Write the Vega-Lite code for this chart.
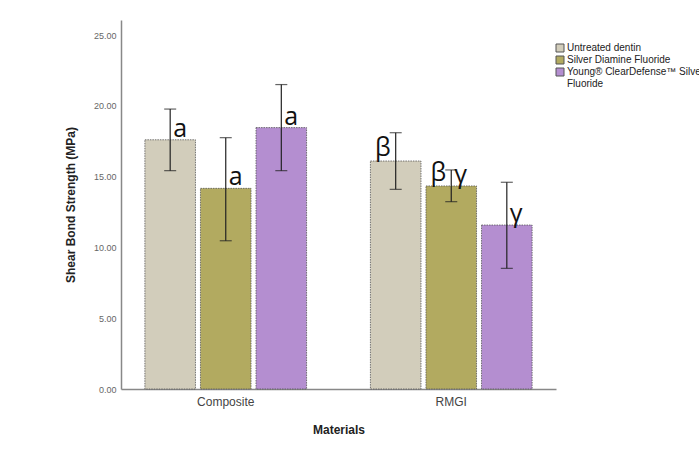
{
  "$schema": "https://vega.github.io/schema/vega-lite/v6.json",
  "width": 435,
  "height": 369,
  "autosize": {"type": "none"},
  "padding": {"left": 121, "top": 20, "right": 143, "bottom": 62},
  "background": "white",
  "config": {"view": {"stroke": null}, "font": "Liberation Sans"},
  "datasets": {
    "main": [
      {"material": "Composite", "treatment": "Untreated dentin", "mean": 17.6, "lo": 15.42, "hi": 19.77},
      {"material": "Composite", "treatment": "Silver Diamine Fluoride", "mean": 14.17, "lo": 10.47, "hi": 17.75},
      {"material": "Composite", "treatment": "Young® ClearDefense™ Silver Fluoride", "mean": 18.46, "lo": 15.42, "hi": 21.5},
      {"material": "RMGI", "treatment": "Untreated dentin", "mean": 16.1, "lo": 14.1, "hi": 18.1},
      {"material": "RMGI", "treatment": "Silver Diamine Fluoride", "mean": 14.34, "lo": 13.23, "hi": 15.47},
      {"material": "RMGI", "treatment": "Young® ClearDefense™ Silver Fluoride", "mean": 11.58, "lo": 8.52, "hi": 14.6}
    ],
    "letters": [
      {"material": "Composite", "treatment": "Untreated dentin", "mean": 17.6, "letter": "a", "side": "right"},
      {"material": "Composite", "treatment": "Silver Diamine Fluoride", "mean": 14.17, "letter": "a", "side": "right"},
      {"material": "Composite", "treatment": "Young® ClearDefense™ Silver Fluoride", "mean": 18.46, "letter": "a", "side": "right"},
      {"material": "RMGI", "treatment": "Untreated dentin", "mean": 16.1, "letter": "β", "side": "left"},
      {"material": "RMGI", "treatment": "Silver Diamine Fluoride", "mean": 14.34, "letter": "β", "side": "left"},
      {"material": "RMGI", "treatment": "Silver Diamine Fluoride", "mean": 14.34, "letter": "γ", "side": "right"},
      {"material": "RMGI", "treatment": "Young® ClearDefense™ Silver Fluoride", "mean": 11.58, "letter": "γ", "side": "right"}
    ]
  },
  "encoding": {
    "x": {
      "field": "material",
      "type": "nominal",
      "scale": {"paddingInner": 0.283, "paddingOuter": 0.106},
      "axis": {
        "title": "Materials",
        "labelAngle": 0,
        "ticks": false,
        "domainColor": "#888888",
        "domainWidth": 1.5,
        "labelFont": "Liberation Sans",
        "labelFontSize": 12,
        "labelColor": "#444444",
        "labelPadding": 7,
        "titleFont": "Liberation Sans",
        "titleFontSize": 12,
        "titleFontWeight": "bold",
        "titleColor": "#222222",
        "titlePadding": 17
      }
    },
    "xOffset": {
      "field": "treatment",
      "type": "nominal",
      "sort": ["Untreated dentin", "Silver Diamine Fluoride", "Young® ClearDefense™ Silver Fluoride"],
      "scale": {"paddingInner": 0.09, "paddingOuter": 0}
    }
  },
  "layer": [
    {
      "data": {"name": "main"},
      "mark": {"type": "bar", "stroke": "#555555", "strokeWidth": 0.8, "strokeDash": [1.5, 1]},
      "encoding": {
        "y": {
          "field": "mean",
          "type": "quantitative",
          "scale": {"domain": [0, 26.06], "nice": false},
          "axis": {
            "title": "Shear Bond Strength (MPa)",
            "values": [0, 5, 10, 15, 20, 25],
            "format": ".2f",
            "grid": false,
            "ticks": false,
            "domainColor": "#888888",
            "domainWidth": 1.5,
            "labelFont": "Liberation Sans",
            "labelFontSize": 9,
            "labelColor": "#666666",
            "labelPadding": 5,
            "titleFont": "Liberation Sans",
            "titleFontSize": 12,
            "titleFontWeight": "bold",
            "titleColor": "#222222",
            "titlePadding": 16
          }
        },
        "color": {
          "field": "treatment",
          "type": "nominal",
          "scale": {
            "domain": ["Untreated dentin", "Silver Diamine Fluoride", "Young® ClearDefense™ Silver Fluoride"],
            "range": ["#d2cdbb", "#b2aa60", "#b48ed0"]
          },
          "legend": {
            "title": null,
            "orient": "none",
            "legendX": 434,
            "legendY": 23,
            "symbolType": "square",
            "symbolSize": 64,
            "symbolStrokeColor": "#555555",
            "symbolStrokeWidth": 1,
            "symbolOpacity": 1,
            "labelFont": "Liberation Sans",
            "labelFontSize": 10,
            "labelColor": "#222222",
            "labelOffset": 2,
            "labelLimit": 400,
            "rowPadding": 0,
            "labelExpr": "datum.label == 'Young® ClearDefense™ Silver Fluoride' ? ['Young® ClearDefense™ Silver', 'Fluoride'] : datum.label"
          }
        }
      }
    },
    {
      "data": {"name": "main"},
      "mark": {"type": "rule", "color": "#222222", "strokeWidth": 1.2},
      "encoding": {
        "y": {"field": "lo", "type": "quantitative"},
        "y2": {"field": "hi"}
      }
    },
    {
      "data": {"name": "main"},
      "mark": {"type": "tick", "color": "#222222", "size": 12, "thickness": 1.2},
      "encoding": {"y": {"field": "hi", "type": "quantitative"}}
    },
    {
      "data": {"name": "main"},
      "mark": {"type": "tick", "color": "#222222", "size": 12, "thickness": 1.2},
      "encoding": {"y": {"field": "lo", "type": "quantitative"}}
    },
    {
      "data": {"name": "letters"},
      "transform": [{"filter": "datum.side == 'right'"}],
      "mark": {"type": "text", "align": "left", "baseline": "alphabetic", "dx": 3, "dy": -3, "font": "Open Sans", "fontSize": 25, "color": "#111111"},
      "encoding": {
        "y": {"field": "mean", "type": "quantitative"},
        "text": {"field": "letter"}
      }
    },
    {
      "data": {"name": "letters"},
      "transform": [{"filter": "datum.side == 'left'"}],
      "mark": {"type": "text", "align": "right", "baseline": "alphabetic", "dx": -5, "dy": -5, "font": "Open Sans", "fontSize": 25, "color": "#111111"},
      "encoding": {
        "y": {"field": "mean", "type": "quantitative"},
        "text": {"field": "letter"}
      }
    }
  ]
}
